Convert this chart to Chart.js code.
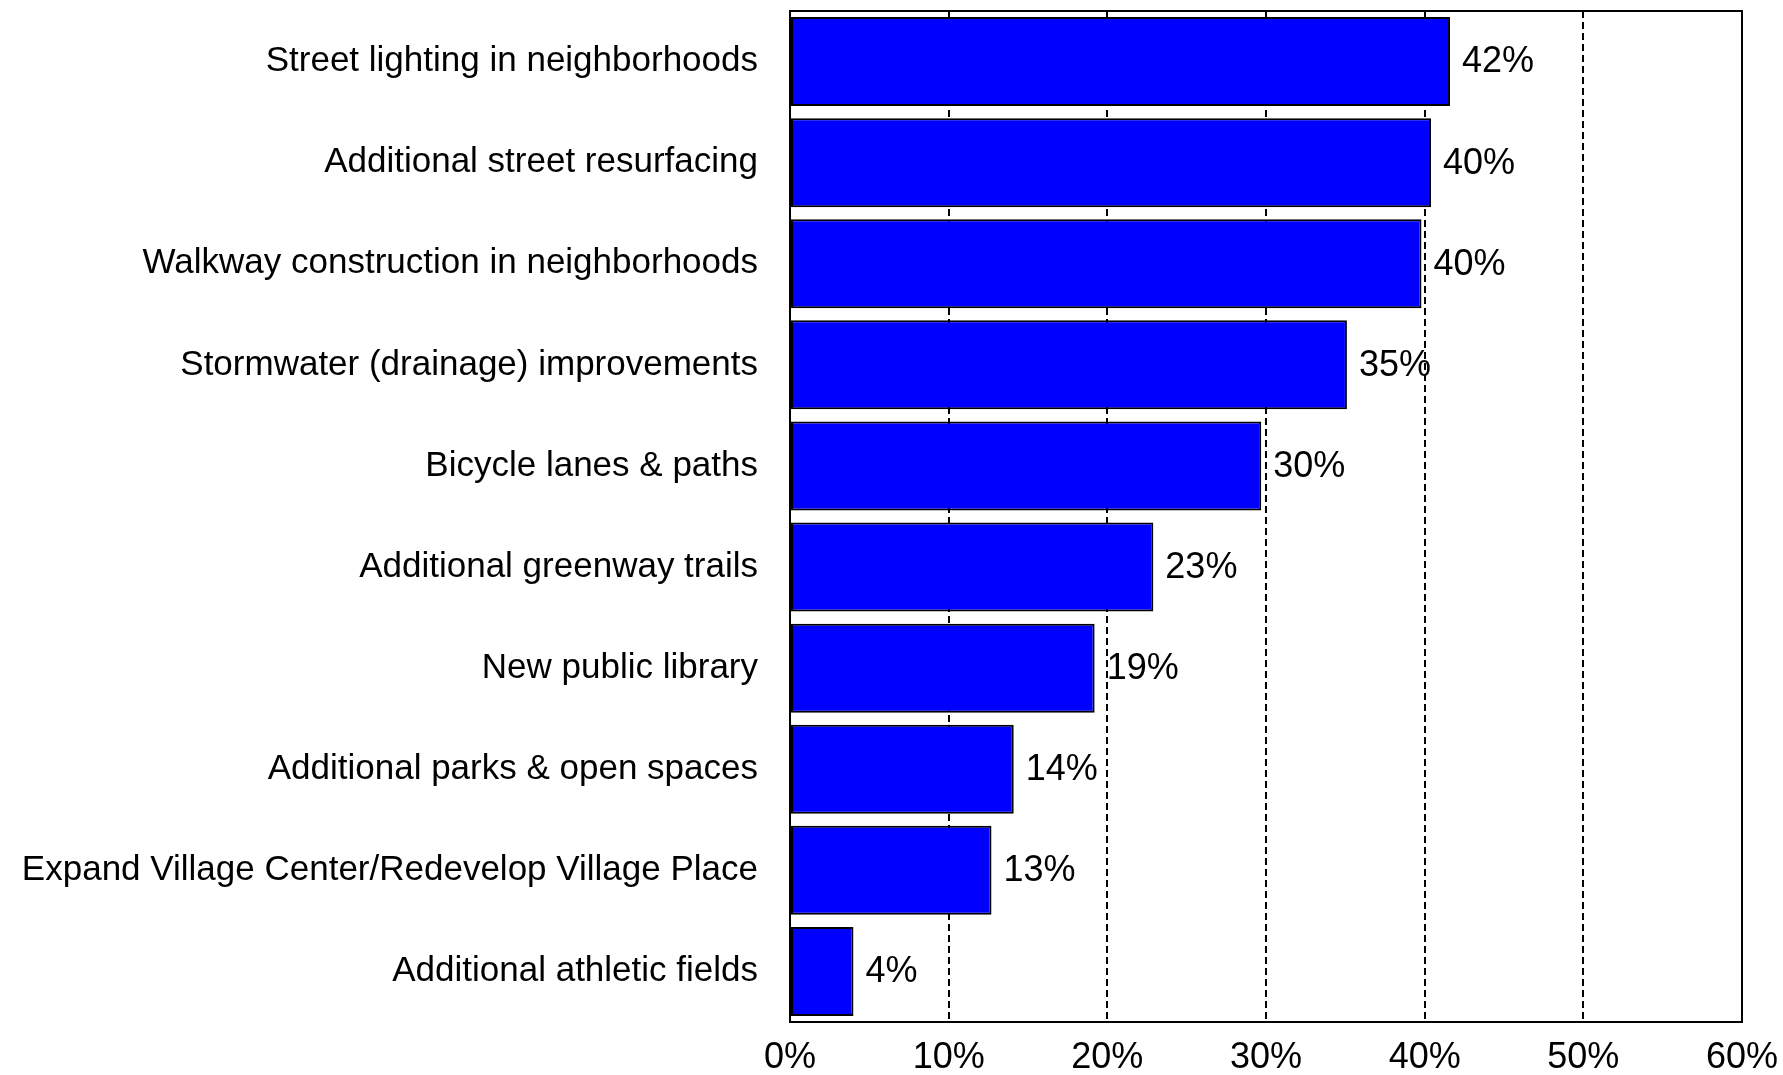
<!DOCTYPE html>
<html>
<head>
<meta charset="utf-8">
<title>Capital improvement priorities</title>
<script src="https://cdn.jsdelivr.net/npm/chart.js@4.4.1/dist/chart.umd.min.js"></script>
<style>
  html, body { margin: 0; padding: 0; background: #fff; }
  #wrap { width: 1783px; height: 1075px; }
</style>
</head>
<body>
<div id="wrap"><canvas id="chart" width="1783" height="1075"></canvas></div>
<script>
// Survey items, top to bottom
const categories = [
  'Street lighting in neighborhoods',
  'Additional street resurfacing',
  'Walkway construction in neighborhoods',
  'Stormwater (drainage) improvements',
  'Bicycle lanes & paths',
  'Additional greenway trails',
  'New public library',
  'Additional parks & open spaces',
  'Expand Village Center/Redevelop Village Place',
  'Additional athletic fields'
];

// Percent of respondents
const values = [41.6, 40.4, 39.8, 35.1, 29.7, 22.9, 19.2, 14.1, 12.7, 4.0];

// Axis range and step (percent)
const xMin = 0;
const xMax = 60;
const xStep = 10;

const FONT = '"Liberation Sans", Arial, sans-serif';

// Black box around the plot area
const framePlugin = {
  id: 'frame',
  afterDatasetsDraw(chart) {
    const { ctx, chartArea: a } = chart;
    ctx.save();
    ctx.strokeStyle = '#000';
    ctx.lineWidth = 2;
    ctx.strokeRect(a.left, a.top, a.right - a.left, a.bottom - a.top);
    ctx.restore();
  }
};

// Percent labels just past the end of each bar
const valueLabels = {
  id: 'valueLabels',
  afterDatasetsDraw(chart) {
    const { ctx } = chart;
    const meta = chart.getDatasetMeta(0);
    ctx.save();
    ctx.font = '36px ' + FONT;
    ctx.fillStyle = '#000';
    ctx.textAlign = 'left';
    ctx.textBaseline = 'middle';
    meta.data.forEach((bar, i) => {
      ctx.fillText(Math.round(values[i]) + '%', bar.x + 12, bar.y + 1);
    });
    ctx.restore();
  }
};

new Chart(document.getElementById('chart'), {
  type: 'bar',
  data: {
    labels: categories,
    datasets: [{
      data: values,
      backgroundColor: '#0000ff',
      borderColor: '#000',
      borderWidth: 2,
      borderSkipped: false,
      categoryPercentage: 1,
      barPercentage: 0.88
    }]
  },
  options: {
    indexAxis: 'y',
    responsive: false,
    animation: false,
    devicePixelRatio: 1,
    layout: { padding: { top: 11, right: 41, left: 0, bottom: 0 } },
    plugins: {
      legend: { display: false },
      tooltip: { enabled: false }
    },
    scales: {
      x: {
        min: xMin,
        max: xMax,
        afterFit: s => {
          s.height = 53;
          s.paddingLeft = 0;
          s.paddingRight = 0;
        },
        ticks: {
          stepSize: xStep,
          padding: 14,
          color: '#000',
          font: { family: FONT, size: 36 },
          callback: v => v + '%'
        },
        grid: {
          drawTicks: false,
          lineWidth: 2,
          color: c => (c.tick && (c.tick.value === xMin || c.tick.value === xMax)) ? 'rgba(0,0,0,0)' : '#000'
        },
        border: { display: false, dash: [7, 4] }
      },
      y: {
        afterFit: s => {
          s.width = 790;
          s.paddingTop = 0;
          s.paddingBottom = 0;
        },
        ticks: {
          padding: 24,
          color: '#000',
          font: { family: FONT, size: 35 }
        },
        grid: { display: false },
        border: { display: false }
      }
    }
  },
  plugins: [framePlugin, valueLabels]
});
</script>
</body>
</html>
